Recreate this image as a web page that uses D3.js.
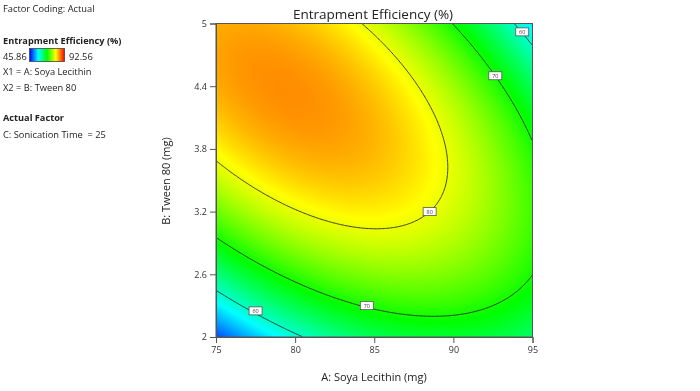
<!DOCTYPE html>
<html><head><meta charset="utf-8">
<script src="https://cdn.jsdelivr.net/npm/d3@7"></script>
<style>
body{margin:0;background:#fff;}
#wrap{position:relative;width:700px;height:391px;}
canvas,svg{position:absolute;left:0;top:0;}
text{font-family:"Open Sans","Noto Sans",sans-serif;}
</style></head><body><div id="wrap"><canvas id="cv" width="700" height="391"></canvas><svg id="sv" width="700" height="391"></svg></div>
<script>
// Response-surface model (coded units)
const modelTerms = ["Intercept","A","B","AB","A²","B²"];
const modelCoefs = [83.20, -3.15, 6.89, -10.86, -8.39, -11.14];
const factorA = {name:"A: Soya Lecithin (mg)", low:75, high:95};
const factorB = {name:"B: Tween 80 (mg)", low:2, high:5};
const xTicks = [75,80,85,90,95];
const yTicks = [2,2.6,3.2,3.8,4.4,5];
const yTickLabels = ["2","2.6","3.2","3.8","4.4","5"];
const levels = [60,70,80];
const colorStops = [45.86,57.535,69.21,80.885,92.56];
const colorRange = ["#0000ff","#00ffff","#00ff00","#ffff00","#ff0000"];
const labelA = [94.35,92.65,88.5,84.53,77.5];
const labelB = [4.92,4.50,3.20,2.30,2.25];
const labelLevel = [60,70,80,70,60];

function response(A,B){
  const a=(A-(factorA.low+factorA.high)/2)/((factorA.high-factorA.low)/2);
  const b=(B-(factorB.low+factorB.high)/2)/((factorB.high-factorB.low)/2);
  const f=[1,a,b,a*b,a*a,b*b];
  return f.reduce((s,v,i)=>s+v*modelCoefs[i],0);
}

const L=216,R=532.5,T=23.5,Bt=337;
const x=d3.scaleLinear().domain([factorA.low,factorA.high]).range([L,R]);
const y=d3.scaleLinear().domain([factorB.low,factorB.high]).range([Bt,T]);
const col=d3.scaleLinear().domain(colorStops).range(colorRange).clamp(true);

// colour fill
const cv=document.getElementById('cv').getContext('2d');
const W=Math.round(R-L),H=Math.round(Bt-T);
const img=cv.createImageData(W,H);
for(let j=0;j<H;j++)for(let i=0;i<W;i++){
  const c=d3.rgb(col(response(x.invert(L+i+0.5),y.invert(T+j+0.5))));
  const k=4*(j*W+i);img.data[k]=c.r;img.data[k+1]=c.g;img.data[k+2]=c.b;img.data[k+3]=255;}
cv.putImageData(img,Math.round(L),Math.round(T));

const svg=d3.select('#sv');
// contour lines
const nx=240,ny=240,vals=new Array(nx*ny);
for(let j=0;j<ny;j++)for(let i=0;i<nx;i++)
  vals[j*nx+i]=response(x.invert(L+(i+0.5)*(R-L)/nx),y.invert(T+(j+0.5)*(Bt-T)/ny));
const cs=d3.contours().size([nx,ny]).thresholds(levels)(vals);
const gx=v=>L+v*(R-L)/nx, gy=v=>T+v*(Bt-T)/ny;
const onB=p=>p[0]<=0.001||p[0]>=nx-0.001||p[1]<=0.001||p[1]>=ny-0.001;
let dstr="";
cs.forEach(c=>c.coordinates.forEach(poly=>poly.forEach(ring=>{
  let pen=false;
  for(let k=0;k<ring.length;k++){const p=ring[k];
    if(k>0&&onB(p)&&onB(ring[k-1])){pen=false;continue;}
    if(!pen){
      if(k>0){const q=ring[k-1];dstr+=`M${gx(q[0])},${gy(q[1])}L${gx(p[0])},${gy(p[1])}`;}
      else dstr+=`M${gx(p[0])},${gy(p[1])}`;
      pen=true;}
    else dstr+=`L${gx(p[0])},${gy(p[1])}`;
  }})));
svg.append('clipPath').attr('id','cp').append('rect').attr('x',L).attr('y',T).attr('width',R-L).attr('height',Bt-T);
svg.append('path').attr('d',dstr).attr('fill','none').attr('stroke','#2a2a2a').attr('stroke-width',0.9).attr('clip-path','url(#cp)');
// contour labels
const labData=labelA.map((a,i)=>({A:a,B:labelB[i],v:labelLevel[i]}));
const lg=svg.selectAll('g.lab').data(labData).join('g').attr('class','lab').attr('transform',d=>`translate(${x(d.A)},${y(d.B)})`);
lg.append('rect').attr('x',-6.5).attr('y',-4).attr('width',13).attr('height',8).attr('fill','#fff').attr('stroke','#555').attr('stroke-width',0.8);
lg.append('text').attr('text-anchor','middle').attr('y',2.2).attr('font-size',5.5).attr('fill','#444').text(d=>d.v);
// frame
svg.append('rect').attr('x',L).attr('y',T).attr('width',R-L).attr('height',Bt-T).attr('fill','none').attr('stroke','#555').attr('stroke-width',1);
// axes
const ax=svg.append('g').attr('transform',`translate(0,${Bt})`).call(d3.axisBottom(x).tickValues(xTicks).tickSize(6).tickPadding(4).tickFormat(d3.format('d')));
const ay=svg.append('g').attr('transform',`translate(${L},0)`).call(d3.axisLeft(y).tickValues(yTicks).tickSize(6).tickPadding(3).tickFormat((d,i)=>yTickLabels[i]));
[ax,ay].forEach(g=>{g.select('.domain').attr('stroke','#555');g.selectAll('line').attr('stroke','#555');g.selectAll('text').attr('font-size',9).attr('fill','#333').attr('font-family','"Open Sans",sans-serif');});
// titles
svg.append('text').attr('x',373).attr('y',19).attr('text-anchor','middle').attr('font-size',13.5).attr('fill','#222').text('Entrapment Efficiency (%)');
svg.append('text').attr('x',374).attr('y',381).attr('text-anchor','middle').attr('font-size',11).attr('fill','#222').text(factorA.name);
svg.append('text').attr('transform','translate(170,181) rotate(-90)').attr('text-anchor','middle').attr('font-size',11).attr('fill','#222').text(factorB.name);
// left info panel
const info=[["Factor Coding: Actual",12,false],["Entrapment Efficiency (%)",44,true],["X1 = A: Soya Lecithin",75,false],["X2 = B: Tween 80",91,false],["Actual Factor",121,true],["C: Sonication Time  = 25",138,false]];
info.forEach(t=>svg.append('text').attr('x',3).attr('y',t[1]).attr('font-size',t[2]?9.2:9.3).attr('font-weight',t[2]?'bold':'normal').attr('fill','#222').attr('xml:space','preserve').style('white-space','pre').text(t[0]));
svg.append('text').attr('x',3).attr('y',60).attr('font-size',9.3).attr('fill','#222').text('45.86');
svg.append('text').attr('x',69).attr('y',60).attr('font-size',9.3).attr('fill','#222').text('92.56');
const gd=svg.append('defs').append('linearGradient').attr('id','gr');
colorRange.forEach((c,i)=>gd.append('stop').attr('offset',i/4).attr('stop-color',c));
svg.append('rect').attr('x',29.5).attr('y',48.5).attr('width',35).attr('height',13).attr('fill','url(#gr)').attr('stroke','#444').attr('stroke-width',0.8);
</script></body></html>
